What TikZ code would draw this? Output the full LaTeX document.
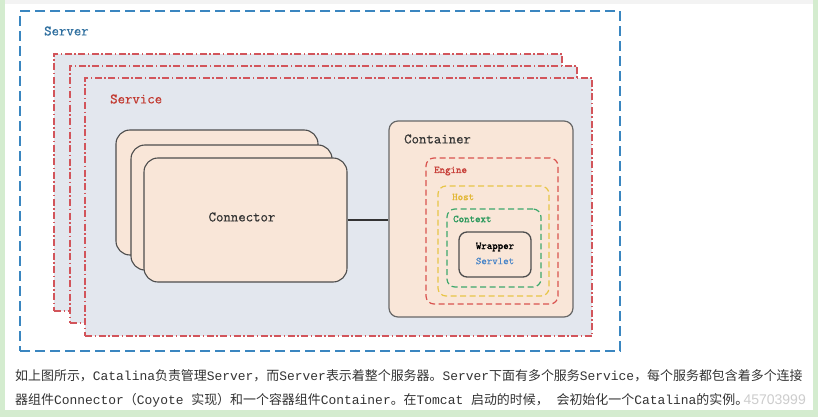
\documentclass[tikz,border=0pt]{standalone}
\usepackage{fontspec}
\newfontfamily\cjk{Noto Sans CJK SC}
\newfontfamily\lmono{Liberation Mono}
\newfontfamily\lbl[FakeBold=0.6]{Latin Modern Mono}
\newfontfamily\lblb[FakeBold=1.6]{Latin Modern Mono}
\newfontfamily\wmfont{Liberation Sans}
\definecolor{bggreen}{HTML}{D4ECCF}
\definecolor{topgray}{HTML}{F3F3F3}
\definecolor{serverblue}{HTML}{3A86C0}
\definecolor{serverlabel}{HTML}{2F6F9F}
\definecolor{servicered}{HTML}{D2555B}
\definecolor{servicelabel}{HTML}{C23A30}
\definecolor{servicefill}{HTML}{E3E7EE}
\definecolor{peach}{HTML}{F9E6D8}
\definecolor{boxborder}{HTML}{4D4D4D}
\definecolor{enginered}{HTML}{D9534F}
\definecolor{enginelabel}{HTML}{C8413A}
\definecolor{hostyellow}{HTML}{E8C547}
\definecolor{hostlabel}{HTML}{E2B838}
\definecolor{contextgreen}{HTML}{3DA86B}
\definecolor{contextlabel}{HTML}{2E9A5E}
\definecolor{servletblue}{HTML}{4A86C8}
\definecolor{textgray}{HTML}{333333}
\definecolor{wmgray}{HTML}{CDCDCD}
\tikzset{
  serverbox/.style={draw=serverblue, line width=1.5pt, dash pattern=on 10pt off 5pt, minimum width=600, minimum height=340, inner sep=0},
  servicebox/.style={draw=servicered, fill=servicefill, line width=1.1pt, dash pattern=on 7pt off 2.5pt on 1.5pt off 2.5pt, minimum height=257, inner sep=0},
  connbox/.style={draw=boxborder, fill=peach, rounded corners=14pt, line width=1.1pt, inner sep=0},
  contbox/.style={draw=boxborder!85, fill=peach, rounded corners=9pt, line width=1.2pt, inner sep=0},
  innerdash/.style={line width=1.2pt, dash pattern=on 6pt off 3.5pt, rounded corners=8pt, inner sep=0},
  wrapbox/.style={draw=boxborder, line width=1.3pt, rounded corners=8pt, inner sep=0},
  biglabel/.style={font=\lbl\fontsize{14.4}{16}\selectfont, inner sep=0},
  smalllabel/.style={font=\lblb\fontsize{10.4}{12}\selectfont, inner sep=0},
  bodytext/.style={anchor=west, inner sep=0, text=textgray, font=\fontsize{12.95}{15}\selectfont}
}
\begin{document}
\begin{tikzpicture}[x=1pt,y=-1pt]
\useasboundingbox (0,0) rectangle (818,417);
\fill[bggreen] (0,0) rectangle (818,417);
\fill[white] (5,0) rectangle (813,410);
\fill[topgray] (5,0) rectangle (813,4);

% server
\node[serverbox] (server) at (320,181) {};
\node[biglabel, anchor=west, text=serverlabel] (serverlbl) at (44,31) {Server};

% services
\node[servicebox, minimum width=508] (service1) at (308,182.5) {};
\node[servicebox, minimum width=507] (service2) at (323.5,194.5) {};
\node[servicebox, minimum width=507, minimum height=258] (service3) at (338.5,207) {};
\node[biglabel, anchor=west, text=servicelabel] (servicelbl) at (110,99) {Service};

% connectors
\node[connbox, minimum width=202, minimum height=125] (conn1) at (217,192.5) {};
\node[connbox, minimum width=201, minimum height=125] (conn2) at (231.5,207.5) {};
\node[connbox, minimum width=203, minimum height=124] (conn3) at (245.5,220) {};
\node[biglabel, text=textgray] (connlbl) at (242,217) {Connector};

% container
\node[contbox, minimum width=184, minimum height=196] (container) at (481,219) {};
\node[biglabel, anchor=west, text=textgray] (contlbl) at (404,139) {Container};

\node[innerdash, draw=enginered, minimum width=132, minimum height=146] (engine) at (492,231) {};
\node[smalllabel, anchor=west, text=enginelabel] (enginelbl) at (434,171) {Engine};
\node[innerdash, draw=hostyellow, minimum width=111, minimum height=110] (host) at (493.5,241) {};
\node[smalllabel, anchor=west, text=hostlabel] (hostlbl) at (452,197) {Host};
\node[innerdash, draw=contextgreen, minimum width=94, minimum height=78] (context) at (494,248) {};
\node[smalllabel, anchor=west, text=contextlabel] (contextlbl) at (453,219) {Context};
\node[wrapbox, minimum width=72, minimum height=45] (wrapper) at (495,254.5) {};
\node[smalllabel, text=black] (wrapperlbl) at (495,247) {Wrapper};
\node[smalllabel, text=servletblue, font=\lbl\fontsize{10.4}{12}\selectfont] (servletlbl) at (495,261) {Servlet};

\draw[line width=1.3pt, draw=textgray] (conn3.east) -- (conn3.east -| container.west);

% text below
\node[anchor=east, inner sep=0, text=wmgray, font=\wmfont\fontsize{14}{15}\selectfont] (watermark) at (806,400) {45703999};
\node[bodytext] (line1) at (15,376) {{\cjk 如上图所示，}{\lmono Catalina}{\cjk 负责管理}{\lmono Server}{\cjk ，而}{\lmono Server}{\cjk 表示着整个服务器。}{\lmono Server}{\cjk 下面有多个服务}{\lmono Service}{\cjk ，每个服务都包含着多个连接}};
\node[bodytext] (line2) at (15,400) {{\cjk 器组件}{\lmono Connector}{\cjk （}{\lmono Coyote }{\cjk 实现）和一个容器组件}{\lmono Container}{\cjk 。在}{\lmono Tomcat }{\cjk 启动的时候，}{\lmono\ }{\cjk 会初始化一个}{\lmono Catalina}{\cjk 的实例。}};
\end{tikzpicture}
\end{document}
